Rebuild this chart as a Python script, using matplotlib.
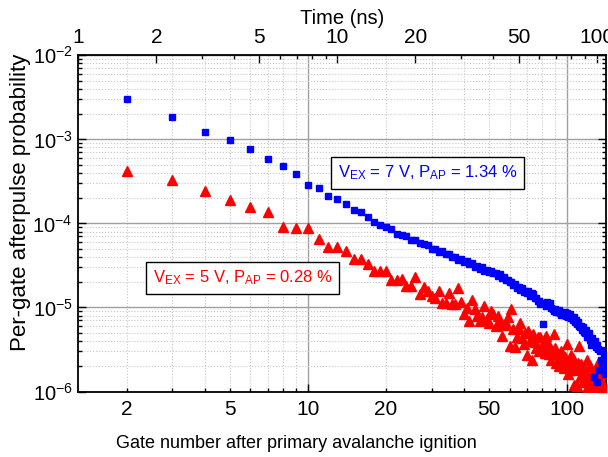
import numpy as np
import matplotlib
matplotlib.use('Agg')
import matplotlib.pyplot as plt
from matplotlib.ticker import FixedLocator, FuncFormatter, NullFormatter

plt.rcParams['font.family'] = 'Liberation Sans'
plt.rcParams['mathtext.fontset'] = 'custom'
plt.rcParams['mathtext.rm'] = 'Liberation Sans'
plt.rcParams['mathtext.it'] = 'Liberation Sans'

# per-gate afterpulse probability, in units of 1e-6, for gates 2..141
gates = np.arange(2, 142)
blue_ppm = [
    3030, 1840, 1230, 980, 760, 590, 480, 390, 289, 264,
    214, 196, 171, 146, 137, 120, 103, 95, 91, 85,
    75, 73, 71, 64, 63, 58, 57, 55, 50, 50,
    46, 47, 43, 43, 40, 40, 37, 38, 35, 36,
    32.5, 34, 30.5, 31.5, 29, 30.5, 27.5, 28, 26.5, 27,
    25.5, 25.5, 24, 25, 22.5, 23, 21, 21, 20, 20,
    18.5, 19, 17, 17.5, 16.2, 17, 15.3, 15.8, 14.7, 15.8,
    13.8, 14.8, 14.3, 12.8, 12.8, 11.8, 11.8, 10.9, 11.3, 6.3,
    11.2, 10.3, 11.7, 10.8, 11.4, 9.8, 9.5, 9.0, 9.6, 8.8,
    8.8, 9.3, 8.6, 8.1, 8.6, 8.2, 8.9, 7.9, 8.5, 7.7,
    8.1, 8.3, 7.4, 7.1, 7.6, 6.7, 7.0, 6.4, 6.8, 6.1,
    5.8, 6.0, 5.4, 5.8, 5.1, 5.0, 5.4, 4.5, 4.8, 4.4,
    5.0, 4.1, 3.6, 4.3, 3.9, 1.5, 4.0, 3.4, 1.3, 3.6,
    3.2, 1.8, 3.0, 2.4, 3.1, 2.2, 1.9, 2.7, 1.6, 2.3,
]
red_ppm = [
    420, 326, 245, 192, 156, 135, 91, 88, 88, 66,
    53, 53, 47, 38, 38, 32.5, 27, 27.5, 27.5, 21,
    21.5, 22, 18, 18, 23, 14.6, 17.5, 15.7, 13.7, 13.1,
    15.7, 11.4, 11.2, 15, 10.9, 10.9, 17.2, 11.6, 8.3, 9.8,
    6.9, 12.2, 9.5, 8.0, 6.9, 7.7, 10.4, 7.2, 6.6, 9.1,
    8.4, 6.0, 7.9, 6.8, 4.6, 6.2, 6.6, 7.6, 3.5, 9.7,
    5.5, 3.4, 4.4, 5.6, 6.6, 4.3, 3.7, 4.9, 2.7, 5.3,
    4.0, 2.4, 4.8, 3.9, 3.3, 4.4, 3.05, 4.4, 3.5, 3.7,
    2.9, 4.6, 4.0, 2.8, 3.3, 2.4, 3.0, 4.8, 3.3, 2.2,
    2.8, 2.0, 2.5, 3.0, 2.1, 1.9, 2.6, 2.2, 3.7, 1.6,
    2.3, 1.8, 2.7, 2.5, 1.2, 2.0, 1.8, 1.15, 2.2, 3.5,
    1.5, 2.1, 1.6, 1.3, 1.9, 0.95, 1.7, 2.4, 1.15, 1.4,
    0.9, 2.0, 1.3, 1.6, 0.95, 1.7, 1.1, 1.2, 1.9, 0.9,
    2.2, 1.4, 1.0, 1.6, 0.92, 1.3, 1.8, 1.1, 0.95, 2.5,
]
blue = np.array(blue_ppm) * 1e-6
red = np.array(red_ppm) * 1e-6

gate_period = 1 / 1.3  # ns per gate
time_labels = [1, 2, 5, 10, 20, 50, 100]
gate_labels = [2, 5, 20, 50]

fig = plt.figure(figsize=(6.08, 4.57), dpi=100)
ax = fig.add_axes([0.1288, 0.1433, 0.8687, 0.7357])

ax.plot(gates, red, ls='none', marker='^', ms=6.5, color='#ff0000', mec='#ff0000', zorder=3)
ax.plot(gates, blue, ls='none', marker='s', ms=5, color='#0000ff', mec='#0000ff', zorder=3)

ax.set_xscale('log')
ax.set_yscale('log')
ax.set_xlim(1.3, 142)
ax.set_ylim(1e-6, 1e-2)

ax.xaxis.set_major_locator(FixedLocator([10, 100]))
ax.xaxis.set_minor_locator(FixedLocator([2, 3, 4, 5, 6, 7, 8, 9, 20, 30, 40, 50, 60, 70, 80, 90]))
ax.xaxis.set_major_formatter(FuncFormatter(lambda v, p: '%d' % v))
ax.xaxis.set_minor_formatter(FuncFormatter(lambda v, p: '%d' % v if int(round(v)) in gate_labels else ''))
ax.yaxis.set_major_locator(FixedLocator([1e-6, 1e-5, 1e-4, 1e-3, 1e-2]))
ax.yaxis.set_minor_locator(FixedLocator([m * 10.0**e for e in range(-6, -2) for m in range(2, 10)]))
ax.yaxis.set_major_formatter(FuncFormatter(lambda v, p: r'$10^{%d}$' % round(np.log10(v))))
ax.yaxis.set_minor_formatter(NullFormatter())

ax.grid(which='major', color='#a0a0a0', lw=1.0, ls='-')
ax.grid(which='minor', color='#c8c8c8', lw=0.8, ls=':')
ax.set_axisbelow(True)

ax.tick_params(which='both', direction='in', right=True, top=False, labelsize=15, width=1)
ax.tick_params(axis='y', which='both', labelsize=14.5, pad=4)
ax.tick_params(which='major', length=6)
ax.tick_params(which='minor', length=3)
ax.tick_params(axis='x', which='both', pad=6)
for s in ax.spines.values():
    s.set_linewidth(1.3)

ax.set_xlabel('Gate number after primary avalanche ignition', fontsize=13)
ax.xaxis.set_label_coords(0.413, -0.128)
ax.set_ylabel('Per-gate afterpulse probability', fontsize=16)
ax.yaxis.set_label_coords(-0.09, 0.564)

secax = ax.secondary_xaxis('top', functions=(lambda g: g * gate_period, lambda t: t / gate_period))
secax.xaxis.set_major_locator(FixedLocator(time_labels))
secax.xaxis.set_major_formatter(FuncFormatter(lambda v, p: '%d' % v))
secax.xaxis.set_minor_locator(FixedLocator([3, 4, 6, 7, 8, 9, 30, 40, 60, 70, 80, 90]))
secax.xaxis.set_minor_formatter(NullFormatter())
secax.tick_params(which='both', direction='in', labelsize=15, width=1, pad=6)
secax.tick_params(which='major', length=6)
secax.tick_params(which='minor', length=3)
secax.set_xlabel('Time (ns)', fontsize=14.5, labelpad=3)

box = dict(boxstyle='square,pad=0.4', fc='white', ec='black', lw=1)
ax.text(0.661, 0.651, r'V$_{\mathrm{EX}}$ = 7 V, P$_{\mathrm{AP}}$ = 1.34 %', transform=ax.transAxes,
        ha='center', va='center', color='#0000ff', fontsize=12, bbox=box, zorder=5)
ax.text(0.311, 0.338, r'V$_{\mathrm{EX}}$ = 5 V, P$_{\mathrm{AP}}$ = 0.28 %', transform=ax.transAxes,
        ha='center', va='center', color='#ff0000', fontsize=12, bbox=box, zorder=5)

fig.savefig('out.png', dpi=100)
